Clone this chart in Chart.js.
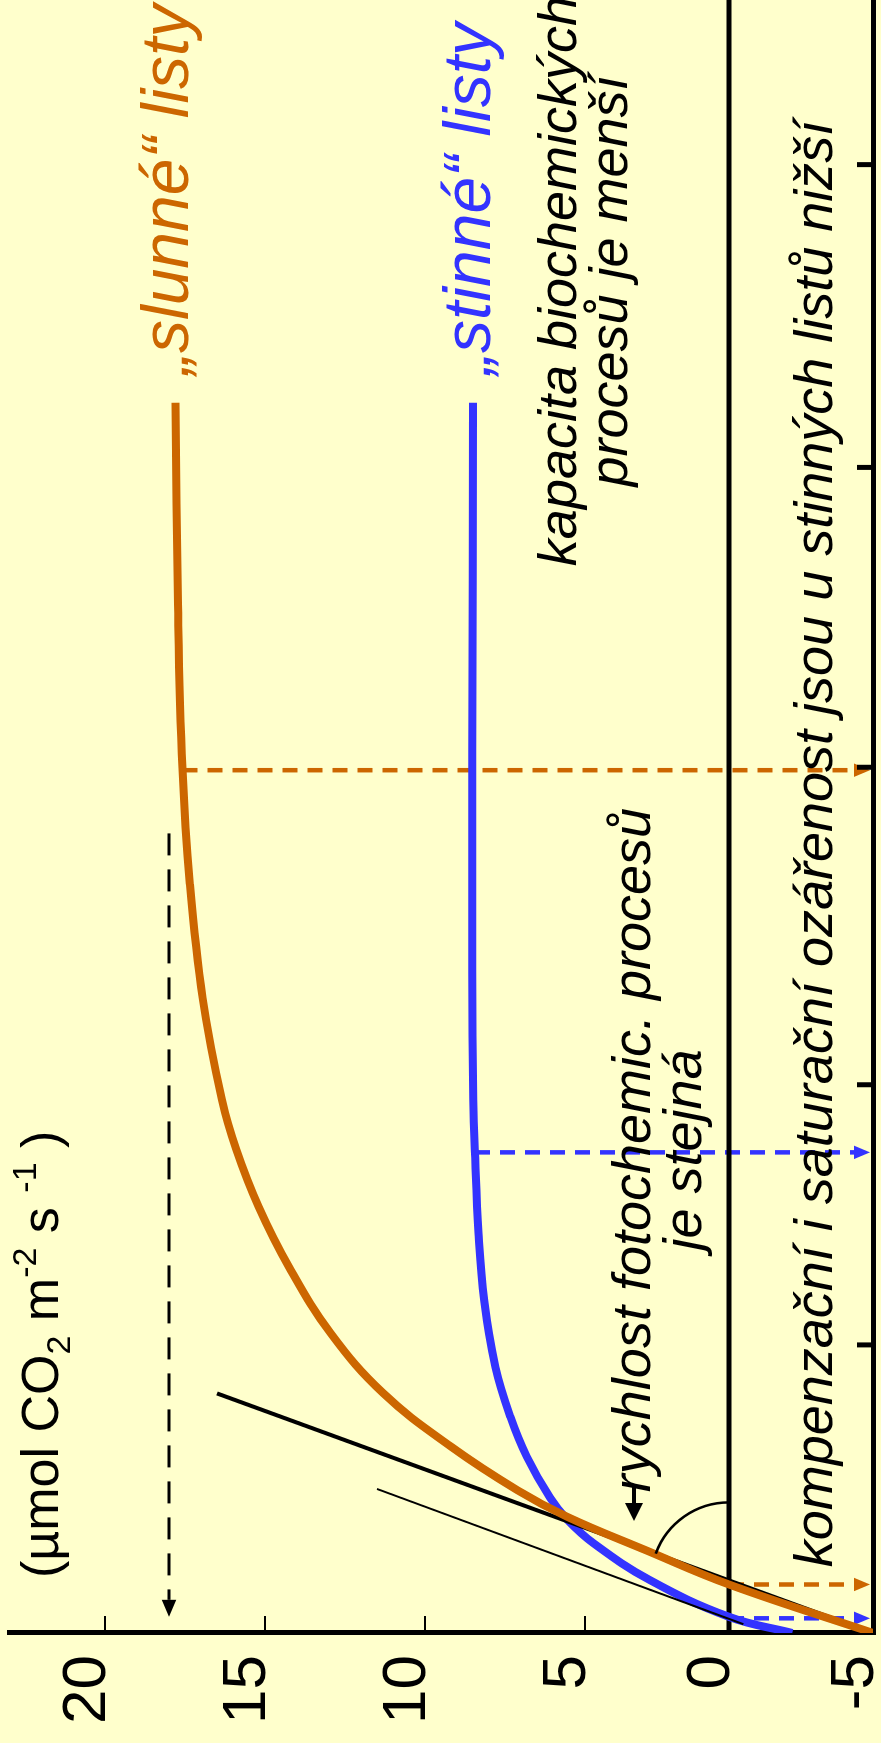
<!DOCTYPE html>
<html>
<head>
<meta charset="utf-8">
<script src="https://cdn.jsdelivr.net/npm/chart.js@4.4.1/dist/chart.umd.min.js"></script>
<style>
  html, body { margin: 0; padding: 0; background: #ffffcc; overflow: hidden; }
  /* the figure is a normal chart turned a quarter turn to the left */
  #wrap {
    position: absolute; left: 0; top: 0;
    width: 1743px; height: 881px;
    transform-origin: 0 0;
    transform: translateY(1743px) rotate(-90deg);
  }
</style>
</head>
<body>
<div id="wrap"><canvas id="chart" width="1743" height="881"></canvas></div>
<script>
// light response curves, irradiance (axis has no labels) vs. CO2 uptake
const sunIrradiance = [0, 33, 56, 79, 97, 127, 163, 204, 249, 290, 329, 363, 432, 510, 588, 700, 837];
const sunRate = [-5, 0, 2.85, 5.55, 7.1, 9.2, 11.3, 12.95, 14.25, 15.2, 15.9, 16.35, 16.95, 17.35, 17.58, 17.72, 17.8];
const shadeIrradiance = [0, 11, 36, 61, 77, 92, 120, 147, 181, 226, 272, 326, 363, 450, 600, 837];
const shadeRate = [-2.2, 0, 2.75, 4.7, 5.55, 6.09, 6.82, 7.33, 7.8, 8.15, 8.33, 8.44, 8.49, 8.52, 8.52, 8.5];

// initial slopes (same for both leaf types)
const sunTangentIrradiance = [0, 163];
const sunTangentRate = [-5, 16.5];
const shadeTangentIrradiance = [6, 98];
const shadeTangentRate = [-0.5, 11.5];

// marked points: [sun, shade]
const compensationIrradiance = [33, 10];
const saturationIrradiance = [587, 327];
const saturationRate = [17.58, 8.44];
const sunMaxRate = 18;
const sunMaxArrowIrradiance = [544, 11];

const yTicks = [-5, 0, 5, 10, 15, 20];
// tick marks on the irradiance axis are not evenly spaced in the original
const xTicks = [196, 373, 589, 793, 999];

const SUN = '#cc6600';
const SHADE = '#3333ff';
const FONT = '"Liberation Sans", Arial, sans-serif';

// the value axis of the original is not evenly spaced: below 5 one unit is drawn shorter
function warp(v) { return v >= 5 ? v : 5 - (5 - v) * 0.9; }
function unwarp(w) { return w >= 5 ? w : 5 - (5 - w) / 0.9; }

class WarpedScale extends Chart.LinearScale {
    getPixelForValue(v) {
        return v === null || v === undefined ? NaN : super.getPixelForValue(warp(v));
    }
    getValueForPixel(p) {
        return unwarp(super.getValueForPixel(p));
    }
}
WarpedScale.id = 'warped';
WarpedScale.defaults = Chart.LinearScale.defaults;
Chart.register(WarpedScale);

function points(xs, ys) {
    return xs.map((x, i) => ({ x: x, y: ys[i] }));
}

function arrow(ctx, x1, y1, x2, y2, color, width, dash, head) {
    const a = Math.atan2(y2 - y1, x2 - x1);
    const bx = x2 - Math.cos(a) * head;
    const by = y2 - Math.sin(a) * head;
    const hw = head * 0.42;
    ctx.save();
    ctx.strokeStyle = color;
    ctx.lineWidth = width;
    ctx.setLineDash(dash);
    ctx.beginPath();
    ctx.moveTo(x1, y1);
    ctx.lineTo(bx, by);
    ctx.stroke();
    ctx.setLineDash([]);
    ctx.fillStyle = color;
    ctx.beginPath();
    ctx.moveTo(x2, y2);
    ctx.lineTo(bx + Math.sin(a) * hw, by - Math.cos(a) * hw);
    ctx.lineTo(bx - Math.sin(a) * hw, by + Math.cos(a) * hw);
    ctx.closePath();
    ctx.fill();
    ctx.restore();
}

const decorations = {
    id: 'decorations',
    beforeDatasetsDraw(chart) {
        const ctx = chart.ctx;
        const sx = chart.scales.x, sy = chart.scales.y;
        const bottom = sy.getPixelForValue(-5) - 3;

        // dashed arrows to the axes
        arrow(ctx, sx.getPixelForValue(sunMaxArrowIrradiance[0]), sy.getPixelForValue(sunMaxRate),
            sx.getPixelForValue(sunMaxArrowIrradiance[1]), sy.getPixelForValue(sunMaxRate),
            '#000', 3, [22, 14], 17);
        const colors = [SUN, SHADE];
        for (let i = 0; i < 2; i++) {
            const xs = sx.getPixelForValue(saturationIrradiance[i]);
            arrow(ctx, xs, sy.getPixelForValue(saturationRate[i]), xs, bottom, colors[i], 4.5, [15, 10], 16);
            const xc = sx.getPixelForValue(compensationIrradiance[i]);
            arrow(ctx, xc, sy.getPixelForValue(0), xc, bottom, colors[i], 4.5, [15, 10], 16);
        }

        // zero line
        ctx.save();
        ctx.strokeStyle = '#000';
        ctx.lineWidth = 5;
        ctx.beginPath();
        ctx.moveTo(sx.left, sy.getPixelForValue(0));
        ctx.lineTo(sx.right, sy.getPixelForValue(0));
        ctx.stroke();

        // inward tick marks
        ctx.lineWidth = 5;
        xTicks.forEach(t => {
            const x = sx.getPixelForValue(t);
            ctx.beginPath();
            ctx.moveTo(x, sy.bottom);
            ctx.lineTo(x, sy.bottom - 16);
            ctx.stroke();
        });
        ctx.lineWidth = 2;
        yTicks.filter(t => t > 0).forEach(t => {
            const y = sy.getPixelForValue(t);
            ctx.beginPath();
            ctx.moveTo(sx.left, y);
            ctx.lineTo(sx.left + 17, y);
            ctx.stroke();
        });
        ctx.restore();
    },
    afterDatasetsDraw(chart) {
        const ctx = chart.ctx;
        const sx = chart.scales.x, sy = chart.scales.y;
        ctx.save();

        // angle between the initial slope and the zero line
        const p0x = sx.getPixelForValue(sunTangentIrradiance[0]), p0y = sy.getPixelForValue(sunTangentRate[0]);
        const p1x = sx.getPixelForValue(sunTangentIrradiance[1]), p1y = sy.getPixelForValue(sunTangentRate[1]);
        const zy = sy.getPixelForValue(0);
        const t = (zy - p0y) / (p1y - p0y);
        const vx = p0x + t * (p1x - p0x);
        ctx.strokeStyle = '#000';
        ctx.lineWidth = 2.5;
        ctx.beginPath();
        ctx.arc(vx, zy, 78, Math.atan2(p1y - p0y, p1x - p0x), 0);
        ctx.stroke();

        // small arrow before "rychlost"
        ctx.fillStyle = '#000';
        ctx.fillRect(236, 632, 20, 4);
        ctx.beginPath();
        ctx.moveTo(222, 634);
        ctx.lineTo(240, 625);
        ctx.lineTo(240, 643);
        ctx.closePath();
        ctx.fill();

        // labels of the curves
        ctx.textBaseline = 'alphabetic';
        ctx.textAlign = 'left';
        ctx.font = 'italic 66px ' + FONT;
        ctx.fillStyle = SUN;
        ctx.fillText('\u201eslunn\u00e9\u201c listy', 1368, 188);
        ctx.fillStyle = SHADE;
        ctx.fillText('\u201estinn\u00e9\u201c listy', 1368, 490);

        // notes
        ctx.fillStyle = '#000';
        ctx.font = 'italic 54px ' + FONT;
        ctx.textAlign = 'center';
        ctx.fillText('kapacita biochemických', 1462, 576);
        ctx.fillText('procesů je menší', 1462, 627);
        ctx.fillText('rychlost fotochemic. procesů', 593, 650);
        ctx.fillText('je stejná', 593, 701);
        ctx.fillText('kompenzační i saturační ozářenost jsou u stinných listů nižší', 899, 832);

        // unit of the value axis
        ctx.textAlign = 'left';
        let x = 165;
        const base = 58;
        const parts = [
            ['(\u00b5mol CO', 52, 0],
            ['2', 34, 12],
            [' m', 52, 0],
            ['-2', 34, -22],
            [' s ', 52, 0],
            ['-1', 34, -22],
            [' )', 52, 0]
        ];
        parts.forEach(p => {
            ctx.font = p[1] + 'px ' + FONT;
            ctx.fillText(p[0], x, base + p[2]);
            x += ctx.measureText(p[0]).width;
        });
        ctx.restore();
    }
};

new Chart(document.getElementById('chart'), {
    type: 'line',
    data: {
        datasets: [
            {
                data: points(sunIrradiance, sunRate),
                borderColor: SUN, borderWidth: 8,
                pointRadius: 0, tension: 0.4
            },
            {
                data: points(sunTangentIrradiance, sunTangentRate),
                borderColor: '#000', borderWidth: 4, pointRadius: 0
            },
            {
                data: points(shadeTangentIrradiance, shadeTangentRate),
                borderColor: '#000', borderWidth: 2, pointRadius: 0
            },
            {
                data: points(shadeIrradiance, shadeRate),
                borderColor: SHADE, borderWidth: 8,
                pointRadius: 0, tension: 0.4
            }
        ]
    },
    options: {
        responsive: false,
        animation: false,
        parsing: true,
        layout: { padding: { left: 0, top: 9, right: 0, bottom: 8 } },
        plugins: { legend: { display: false }, tooltip: { enabled: false } },
        scales: {
            x: {
                type: 'linear', min: 0, max: 1111, bounds: 'data',
                ticks: { display: false },
                grid: { display: false, drawTicks: false },
                border: { color: '#000', width: 5 },
                afterFit: s => { s.height = 0; s.paddingLeft = 0; s.paddingRight = 0; }
            },
            y: {
                type: 'warped', position: 'left', min: -4, max: 23, bounds: 'data',
                afterBuildTicks: s => { s.ticks = yTicks.map(v => ({ value: v })); },
                ticks: {
                    autoSkip: false,
                    color: '#000',
                    font: { family: FONT, size: 62 },
                    padding: 22,
                    labelOffset: -17,
                    callback: v => String(v)
                },
                grid: { display: false, drawTicks: false },
                border: { color: '#000', width: 5 },
                afterFit: s => { s.width = 110; s.paddingTop = 0; s.paddingBottom = 0; }
            }
        }
    },
    plugins: [decorations]
});
</script>
</body>
</html>
